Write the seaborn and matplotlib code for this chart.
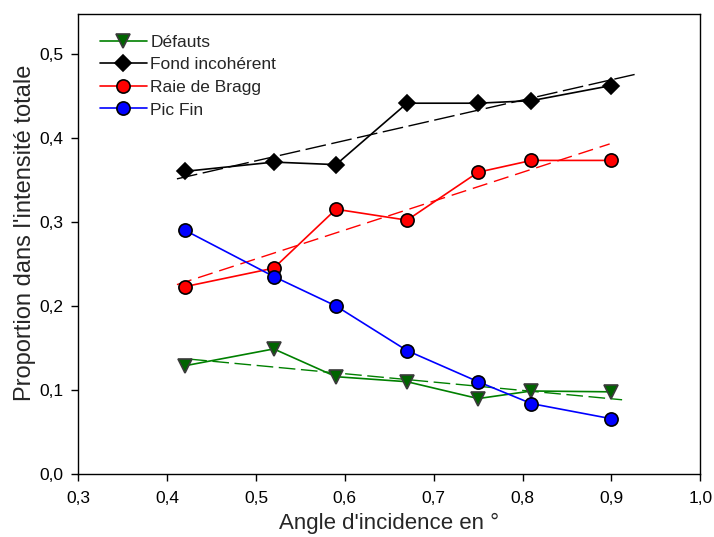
import numpy as np
import pandas as pd
import matplotlib
matplotlib.use("Agg")
import matplotlib.pyplot as plt
from matplotlib.ticker import FuncFormatter, MultipleLocator
import seaborn as sns

# ---- data ----
angles = [0.42, 0.52, 0.59, 0.67, 0.75, 0.81, 0.90]
defauts = [0.129, 0.149, 0.116, 0.110, 0.090, 0.099, 0.098]
fond_incoherent = [0.360, 0.371, 0.368, 0.441, 0.441, 0.444, 0.462]
raie_bragg = [0.223, 0.245, 0.315, 0.302, 0.359, 0.373, 0.373]
pic_fin = [0.290, 0.235, 0.200, 0.147, 0.110, 0.084, 0.066]

labels = ["Défauts", "Fond incohérent", "Raie de Bragg", "Pic Fin"]
x_label = "Angle d'incidence en °"
y_label = "Proportion dans l'intensité totale"

# extents of the fitted (dashed) lines
fit_range_defauts = [0.426, 0.912]
fit_range_fond = [0.411, 0.928]
fit_range_bragg = [0.411, 0.898]

sns.set_style("ticks")
plt.rcParams["font.family"] = ["Liberation Sans", "DejaVu Sans"]

fig = plt.figure(figsize=(7.14, 5.37), dpi=100)
ax = fig.add_axes([78.3 / 714, 1 - 474.3 / 537, (700.3 - 78.3) / 714, (474.3 - 14) / 537])

series = [
    (labels[0], defauts, dict(color="#008000", marker="v", mfc="#006400", mec="#3a3a3a", ms=10), fit_range_defauts, (0, (12, 4))),
    (labels[1], fond_incoherent, dict(color="black", marker="D", mfc="black", mec="black", ms=8.5), fit_range_fond, (0, (15, 4))),
    (labels[2], raie_bragg, dict(color="#ff0000", marker="o", mfc="#ff0000", mec="black", ms=9.5), fit_range_bragg, (0, (11, 5))),
    (labels[3], pic_fin, dict(color="#0000ff", marker="o", mfc="#0000ff", mec="black", ms=9.5), None, None),
]

for name, vals, style, fit_range, ls in series:
    df = pd.DataFrame({"x": angles, "y": vals})
    if fit_range is not None:
        slope, intercept = np.polyfit(angles, vals, 1)
        fx = np.array(fit_range)
        fdf = pd.DataFrame({"x": fx, "y": intercept + slope * fx})
        sns.lineplot(data=fdf, x="x", y="y", ax=ax, color=style["color"], lw=1.0,
                     linestyle=ls, legend=False)
    sns.lineplot(data=df, x="x", y="y", ax=ax, label=name, color=style["color"], lw=1.2,
                 marker=style["marker"], markerfacecolor=style["mfc"],
                 markeredgecolor=style["mec"], markeredgewidth=1.2, markersize=style["ms"])

ax.set_xlim(0.3, 1.0)
ax.set_ylim(0.0, 0.547)
ax.xaxis.set_major_locator(MultipleLocator(0.1))
ax.yaxis.set_major_locator(MultipleLocator(0.1))
fmt = FuncFormatter(lambda v, p: f"{v:.1f}".replace(".", ","))
ax.xaxis.set_major_formatter(fmt)
ax.yaxis.set_major_formatter(fmt)
ax.tick_params(axis="both", direction="out", length=5, width=1, labelsize=12.5,
               colors="black")
ax.tick_params(axis="x", pad=7)
ax.tick_params(axis="y", pad=6)
ax.tick_params(top=False, right=False)
for sp in ax.spines.values():
    sp.set_visible(True)
    sp.set_color("black")
    sp.set_linewidth(1.0)

ax.set_xlabel(x_label, fontsize=16, labelpad=5)
ax.set_ylabel(y_label, fontsize=17)
ax.yaxis.set_label_coords(-0.068, 0.524)

leg = ax.legend(loc="upper left", bbox_to_anchor=(0.018, 0.978), frameon=False,
                fontsize=12.5, handlelength=2.7, handletextpad=0.2,
                labelspacing=0.43, borderaxespad=0.2)

fig.savefig("out.png", dpi=100)
